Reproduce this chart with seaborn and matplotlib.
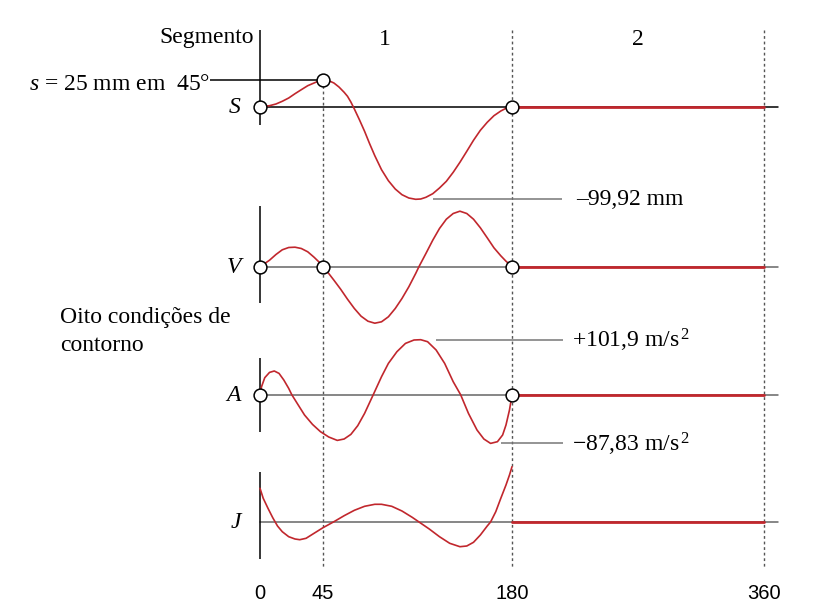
import numpy as np
import pandas as pd
import seaborn as sns
import matplotlib.pyplot as plt

# crank angle (deg) and curve values (1 unit ~ 1 px)
s_deg = [0, 3.4, 6.8, 11.4, 15.9, 20.5, 25.0, 29.5, 34.1, 38.6, 42.0, 45,
         49.1, 52.8, 56.4, 60.1, 62.5, 64.9, 67.4, 71.0, 74.7, 78.3, 82.0, 86.8,
         91.7, 96.6, 101.4, 106.3, 111.2, 114.8, 118.5, 123.4, 128.2, 133.1, 138.0,
         142.8, 147.7, 152.5, 157.4, 162.3, 167.1, 172.0, 175.7, 180]
s_val = [0, 0.7, 1.3, 3.0, 5.7, 9.0, 13.3, 17.3, 21.3, 24.0, 26.0, 26.7,
         26.3, 24.0, 20.0, 14.7, 10.7, 5.0, -2.0, -12.7, -24.3, -36.7, -48.7, -62.7,
         -73.7, -82.0, -87.7, -91.0, -92.3, -92.0, -90.3, -86.7, -81.0, -74.3, -65.3,
         -55.3, -44.3, -33.3, -23.3, -15.3, -8.7, -4.0, -1.3, 0]

v_deg = [0, 3.4, 6.8, 11.4, 15.9, 20.5, 25.0, 29.5, 34.1, 38.6, 42.0, 45,
         49.1, 52.8, 57.6, 62.5, 67.4, 72.2, 77.1, 82.0, 86.8, 91.7, 96.6, 101.4,
         106.3, 111.2, 113.6, 118.5, 123.4, 128.2, 133.1, 138.0, 142.8, 147.7, 152.5,
         157.4, 162.3, 167.1, 172.0, 175.7, 180]
v_val = [0, 3.0, 6.3, 12.0, 16.7, 19.0, 19.3, 18.0, 14.7, 9.3, 4.7, 0,
         -7.0, -13.7, -22.7, -32.7, -42.0, -49.7, -54.7, -56.7, -55.3, -50.3, -42.0, -32.0,
         -20.3, -7.0, 0, 13.0, 26.3, 38.0, 47.3, 53.0, 55.3, 53.0, 47.3,
         38.7, 28.7, 18.7, 10.7, 5.3, 0]

a_deg = [0, 1.1, 3.4, 6.8, 10.2, 13.6, 17.0, 20.5, 22.7,
         27.3, 31.8, 37.5, 43.2, 49.1, 55.2, 60.1, 64.9, 69.8, 74.7, 80.9,
         86.8, 91.7, 97.8, 103.9, 110.0, 114.8, 119.7, 125.8, 131.9, 138.0, 143.3,
         148.9, 155.0, 159.9, 164.7, 169.6, 173.3, 175.7, 178.2, 179.4, 180]
a_val = [0, 8.0, 17.0, 22.3, 23.7, 21.3, 14.7, 6.3, 0,
         -10.3, -20.3, -29.7, -37.0, -42.3, -45.7, -44.3, -39.7, -31.0, -18.7, 0,
         18.0, 31.3, 43.0, 51.3, 54.7, 55.0, 53.0, 44.7, 31.3, 13.0, 0,
         -18.7, -35.3, -44.3, -48.7, -47.0, -40.3, -30.3, -15.3, -5.3, 0]

j_deg = [0, 2.3, 5.7, 9.1, 12.5, 15.9, 20.5, 25.0, 28.4, 32.9, 38.6, 45,
         52.8, 60.1, 67.4, 74.7, 82.0, 86.8, 94.1, 101.4, 108.7, 113.6,
         120.9, 128.2, 135.5, 142.8, 147.7, 152.5, 157.4, 162.3, 164.7, 168.4,
         172.0, 175.7, 178.2, 180]
j_val = [33.7, 23.7, 13.7, 4.3, -4.0, -9.7, -14.7, -17.0, -17.7, -16.3, -11.3, -5.7,
         0.3, 6.3, 11.7, 15.7, 17.7, 17.7, 15.7, 11.0, 4.7, 0,
         -7.0, -14.7, -21.3, -24.7, -24.0, -20.3, -13.0, -4.0, 0, 10.3,
         23.7, 37.0, 47.0, 55.3]

dwell_deg = [180, 360]
dwell_val = [0, 0]

seg_ticks = [0, 45, 180, 360]
tick_labels = ["0", "45", "180", "360"]

W, H = 825, 608
X0, PXDEG = 260, 1.4          # pixel of 0 deg, pixels per degree
XLIM = (-X0 / PXDEG, (W - X0) / PXDEG)
RED = "#c1272d"
SERIF = "Liberation Serif"
FS = 17

sns.set_theme(style="white")
plt.rcParams["font.family"] = [SERIF, "DejaVu Sans"]
plt.rcParams["mathtext.fontset"] = "custom"
plt.rcParams["mathtext.rm"] = SERIF
plt.rcParams["mathtext.it"] = SERIF + ":italic"

fig = plt.figure(figsize=(W / 100, H / 100), dpi=100)


def ftext(px, py, s, **kw):
    kw.setdefault("fontsize", FS)
    kw.setdefault("va", "baseline")
    kw.setdefault("color", "black")
    fig.text(px / W, 1 - py / H, s, **kw)


def px2deg(px):
    return (px - X0) / PXDEG


# background axes: degrees on x, pixels on y, for the dotted section lines
bg = fig.add_axes([0, 0, 1, 1])
bg.set_xlim(XLIM)
bg.set_ylim(H, 0)
bg.axis("off")
bg.vlines(45, 80, 567, color="#555555", lw=1, linestyles=(0, (2, 2)))
bg.vlines([180, 360], 30, 567, color="#555555", lw=1, linestyles=(0, (2, 2)))

R = 100
panels = [
    ("S", s_deg, s_val, 107.0, (30, 125), "black", [0, 45, 180]),
    ("V", v_deg, v_val, 266.5, (206, 303), "#666666", [0, 45, 180]),
    ("A", a_deg, a_val, 394.7, (358, 432), "#666666", [0, 180]),
    ("J", j_deg, j_val, 522.0, (472, 559), "#666666", []),
]

axes = {}
for name, xd, yd, base, (ytop, ybot), bcol, marks in panels:
    ax = fig.add_axes([0, (H - base - R) / H, 1, 2 * R / H])
    ax.set_xlim(XLIM)
    ax.set_ylim(-R, R)
    ax.axis("off")
    ax.patch.set_alpha(0)
    ax.axhline(0, xmin=X0 / W, xmax=778 / W, color=bcol, lw=1.1)
    ax.vlines(0, base - ybot, base - ytop, color="black", lw=1.1)
    sns.lineplot(x=dwell_deg, y=dwell_val, ax=ax, color=RED, lw=2)
    sns.lineplot(x=xd, y=yd, ax=ax, color=RED, lw=1.2, sort=False,
                 solid_joinstyle="round")
    lookup = dict(zip(xd, yd))
    my = [lookup[m] for m in marks]
    if marks:
        ax.scatter(marks, my, s=85, facecolor="white", edgecolor="black", lw=1.1,
                   zorder=5, clip_on=False)
    ftext(241, base + 6, name, ha="right", style="italic")
    axes[name] = ax

# leader lines for the extreme values
ax = axes["S"]
ax.hlines(max(s_val), px2deg(210), 45, color="black", lw=1.1, zorder=1)
ax.hlines(min(s_val), px2deg(433), px2deg(562), color="#777777", lw=1.1)
ax = axes["A"]
ax.hlines(max(a_val), px2deg(436), px2deg(563), color="#777777", lw=1.1)
ax.hlines(min(a_val), px2deg(501), px2deg(563), color="#777777", lw=1.1)

ftext(254, 43, "Segmento", ha="right")
ftext(385, 45, "1", ha="center")
ftext(638, 45, "2", ha="center")
ftext(210, 90, "$s$ = 25 mm em  45°", ha="right")
ftext(576, 205, "\u201399,92 mm", ha="left")
ftext(572, 347, "+101,9 m/s$^{\\,2}$", ha="left")
ftext(572, 452, "\u221287,83 m/s$^{\\,2}$", ha="left")
ftext(60, 323, "Oito condições de", ha="left")
ftext(60, 351, "contorno", ha="left")

for t, lab in zip(seg_ticks, tick_labels):
    ftext(X0 + t * PXDEG, 599, lab, ha="center", fontsize=14.5,
          family=["Liberation Sans Narrow", "Liberation Sans", "DejaVu Sans"])

fig.savefig("out.png", dpi=100)
